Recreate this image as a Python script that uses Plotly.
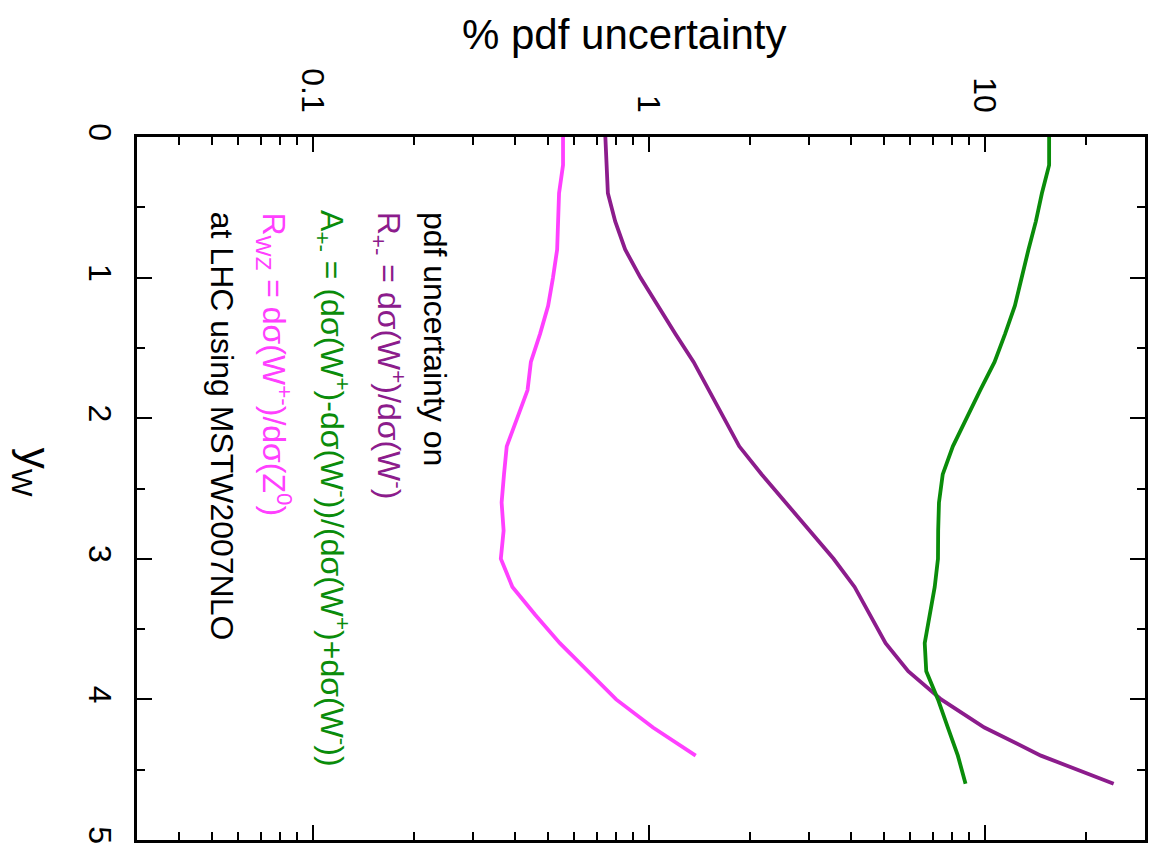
import plotly.graph_objects as go

# rapidity grid (y_W) and % pdf uncertainties of the three observables
y_w = [0.0, 0.2, 0.4, 0.6, 0.8, 1.0, 1.2, 1.4, 1.6, 1.8, 2.0, 2.2,
       2.4, 2.6, 2.8, 3.0, 3.2, 3.4, 3.6, 3.8, 4.0, 4.2, 4.4, 4.6]

r_pm = [0.743, 0.75, 0.756, 0.795, 0.851, 0.945, 1.063, 1.20, 1.36, 1.51,
        1.68, 1.86, 2.17, 2.56, 3.0, 3.55, 4.1, 4.57, 5.07, 5.92, 7.42,
        9.98, 14.7, 24.2]

a_pm = [15.55, 15.55, 14.8, 14.2, 13.5, 12.9, 12.3, 11.5, 10.7, 9.7, 8.8,
        8.04, 7.5, 7.31, 7.27, 7.26, 7.1, 6.86, 6.63, 6.7, 7.26, 7.77, 8.32,
        8.77]

y_w_rwz = [0.0, 0.2, 0.4, 0.6, 0.8, 1.0, 1.2, 1.4, 1.6, 1.8, 2.0, 2.2,
           2.4, 2.6, 2.8, 3.0, 3.2, 3.4, 3.6, 3.8, 4.0, 4.2, 4.4]
r_wz = [0.556, 0.556, 0.541, 0.537, 0.534, 0.519, 0.502, 0.475, 0.446,
        0.436, 0.407, 0.378, 0.371, 0.365, 0.370, 0.363, 0.393, 0.46, 0.544,
        0.66, 0.80, 1.03, 1.38]

major_vals = [0.1, 1, 10]
major_text = ["0.1", "1", "10"]
minor_vals = [0.04, 0.05, 0.06, 0.07, 0.08, 0.09,
              0.2, 0.3, 0.4, 0.5, 0.6, 0.7, 0.8, 0.9,
              2, 3, 4, 5, 6, 7, 8, 9, 20]

PURPLE = "#8c1c8c"
GREEN = "#0a8c0a"
PINK = "#ff40ff"
FONT = "Liberation Sans, Arial, sans-serif"

fig = go.Figure()
fig.add_trace(go.Scatter(x=r_pm, y=y_w, mode="lines",
                         line=dict(color=PURPLE, width=3.8)))
fig.add_trace(go.Scatter(x=a_pm, y=y_w, mode="lines",
                         line=dict(color=GREEN, width=3.8)))
fig.add_trace(go.Scatter(x=r_wz, y=y_w_rwz, mode="lines",
                         line=dict(color=PINK, width=3.8)))

L, R, T, B = 137, 10, 137, 19
W, H = 1158, 859
pw, ph = W - L - R, H - T - B


def px(xpix):
    return (xpix - L) / pw


def py(ypix):
    return 1 - (ypix - T) / ph


fig.update_layout(
    width=W, height=H,
    margin=dict(l=L, r=R, t=T, b=B),
    paper_bgcolor="white", plot_bgcolor="white",
    showlegend=False,
    font=dict(family=FONT, color="black"),
    xaxis=dict(
        type="log", side="top",
        range=[-1.5229, 1.4771],
        tickmode="array", tickvals=major_vals, ticktext=major_text,
        ticks="inside", ticklen=15, tickwidth=2, tickcolor="black",
        minor=dict(tickmode="array", tickvals=minor_vals, ticks="inside",
                   ticklen=8, tickwidth=2, tickcolor="black", showgrid=False),
        tickangle=90, tickfont=dict(size=32, family=FONT),
        ticklabelstandoff=10,
        showline=True, linecolor="black", linewidth=3, mirror="allticks",
        showgrid=False, zeroline=False,
    ),
    yaxis=dict(
        range=[5, 0],
        tickmode="linear", tick0=0, dtick=1,
        ticks="inside", ticklen=15, tickwidth=2, tickcolor="black",
        minor=dict(dtick=0.5, ticks="inside", ticklen=8, tickwidth=2,
                   tickcolor="black", showgrid=False),
        tickangle=90, tickfont=dict(size=32, family=FONT),
        ticklabelstandoff=7,
        showline=True, linecolor="black", linewidth=3, mirror="allticks",
        showgrid=False, zeroline=False,
    ),
)

annotations = [
    dict(text="% pdf uncertainty", x=px(626), y=py(35), textangle=0,
         font=dict(size=42), xanchor="center", yanchor="middle"),
    dict(text="y<sub>W</sub>", x=px(33), y=py(472), textangle=90,
         font=dict(size=42), xanchor="center", yanchor="middle"),
    dict(text="pdf uncertainty on", x=px(436), y=py(210), textangle=90,
         font=dict(size=32, color="black"), xanchor="center", yanchor="top"),
    dict(text="R<sub>+-</sub> = dσ(W<sup>+</sup>)/dσ(W<sup>-</sup>)",
         x=px(390), y=py(210), textangle=90,
         font=dict(size=32, color=PURPLE), xanchor="center", yanchor="top"),
    dict(text="A<sub>+-</sub> = (dσ(W<sup>+</sup>)-dσ(W<sup>-</sup>))/"
              "(dσ(W<sup>+</sup>)+dσ(W<sup>-</sup>))",
         x=px(333), y=py(208), textangle=90,
         font=dict(size=32, color=GREEN), xanchor="center", yanchor="top"),
    dict(text="R<sub>WZ</sub> = dσ(W<sup>+-</sup>)/dσ(Z<sup>0</sup>)",
         x=px(275), y=py(210), textangle=90,
         font=dict(size=32, color=PINK), xanchor="center", yanchor="top"),
    dict(text="at LHC using MSTW2007NLO", x=px(223), y=py(210), textangle=90,
         font=dict(size=32, color="black"), xanchor="center", yanchor="top"),
]
for a in annotations:
    a.update(xref="paper", yref="paper", showarrow=False)
    fig.add_annotation(**a)

fig.write_html("out.html")
